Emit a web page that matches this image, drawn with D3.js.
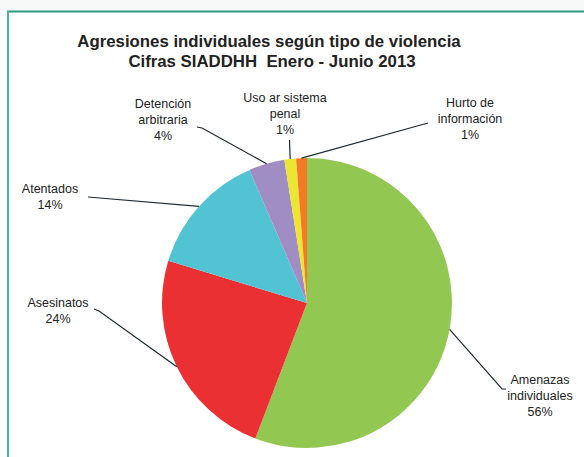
<!DOCTYPE html>
<html>
<head>
<meta charset="utf-8">
<script src="https://cdn.jsdelivr.net/npm/d3@7"></script>
<style>
  body { margin: 0; background: #fff; }
  text { font-family: "Liberation Sans", Arial, sans-serif; fill: #222; }
</style>
</head>
<body>
<div id="chart"></div>
<script>
var svgWidth = 584;
var svgHeight = 457;

// data (share of total, %)
var categories = ["Amenazas individuales", "Asesinatos", "Atentados",
  "Detención arbitraria", "Uso ar sistema penal", "Hurto de información"];
var values = [55.8, 23.9, 13.8, 4.0, 1.3, 1.2];
var labelLines = [
  ["Amenazas", "individuales"],
  ["Asesinatos"],
  ["Atentados"],
  ["Detención", "arbitraria"],
  ["Uso ar sistema", "penal"],
  ["Hurto de", "información"]
];
var colors = ["#92c852", "#ea3033", "#52c3d3", "#9f8dc4", "#ece632", "#f47b26"];

// label layout: text center and leader line start/bend
var labelLayout = [
  { x: 540, y: 384, lx: 506, ly: 389, bx: 502, by: 389 },
  { x: 58, y: 307, lx: 94, ly: 309, bx: 99, by: 311 },
  { x: 50, y: 193, lx: 88, ly: 197, bx: 88, by: 197 },
  { x: 163, y: 108, lx: 197, ly: 127, bx: 202, by: 128 },
  { x: 285, y: 102, lx: 289.5, ly: 140, bx: 289.5, by: 140 },
  { x: 470, y: 107, lx: 428, ly: 123, bx: 428, by: 123 }
];

var cx = 307, cy = 303, radius = 145;

var svg = d3.select("#chart")
  .append("svg")
  .attr("width", svgWidth)
  .attr("height", svgHeight);

// frame
svg.append("rect")
  .attr("x", 0).attr("y", 0)
  .attr("width", svgWidth).attr("height", 11)
  .attr("fill", "#f7f9f9");
svg.append("line")
  .attr("x1", 7).attr("x2", svgWidth)
  .attr("y1", 11.5).attr("y2", 11.5)
  .attr("stroke", "#2a9a80").attr("stroke-width", 2);
svg.append("line")
  .attr("x1", 8).attr("x2", 8)
  .attr("y1", 11).attr("y2", svgHeight)
  .attr("stroke", "#44b49a").attr("stroke-width", 2);

// title
var title = svg.append("text")
  .attr("text-anchor", "middle")
  .style("font-weight", "bold")
  .style("font-size", "16.8px")
  .style("white-space", "pre");
title.append("tspan").attr("x", 269).attr("y", 47)
  .text("Agresiones individuales según tipo de violencia");
title.append("tspan").attr("x", 272).attr("y", 67)
  .text("Cifras SIADDHH  Enero - Junio 2013");

var pie = d3.pie().sort(null).value(d => d);
var arcs = pie(values);

var arc = d3.arc().innerRadius(0).outerRadius(radius);

var chartGroup = svg.append("g")
  .attr("transform", `translate(${cx}, ${cy})`);

chartGroup.selectAll("path")
  .data(arcs)
  .enter()
  .append("path")
  .attr("d", arc)
  .attr("fill", (d, i) => colors[i]);

// leader lines
var outerArc = d3.arc().innerRadius(radius).outerRadius(radius);
svg.selectAll("polyline.leader")
  .data(arcs)
  .enter()
  .append("polyline")
  .attr("class", "leader")
  .attr("fill", "none")
  .attr("stroke", "#1f2a30")
  .attr("stroke-width", 1.2)
  .attr("points", function(d, i) {
    var p = outerArc.centroid(d);
    var L = labelLayout[i];
    return [[L.lx, L.ly], [L.bx, L.by], [p[0] + cx, p[1] + cy]].join(" ");
  });

// labels
var labels = svg.selectAll("text.lbl")
  .data(arcs)
  .enter()
  .append("text")
  .attr("class", "lbl")
  .attr("text-anchor", "middle")
  .style("font-size", "12.5px");

labels.each(function(d, i) {
  var t = d3.select(this);
  var lines = labelLines[i].concat([Math.round(d.data) + "%"]);
  lines.forEach(function(s, j) {
    t.append("tspan")
      .attr("x", labelLayout[i].x)
      .attr("y", labelLayout[i].y + j * 16)
      .text(s);
  });
});
</script>
</body>
</html>
